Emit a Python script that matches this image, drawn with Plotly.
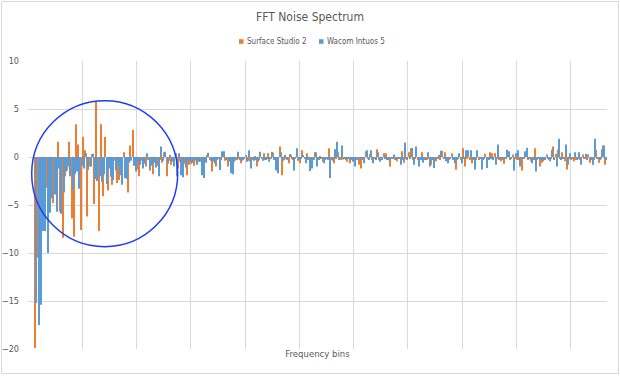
import plotly.graph_objects as go

# ---- data ----
bins = list(range(256))
surface_studio_2 = [
    0, 0, 0, -19.9, -10.5, -4.3, -5.0, -2.3, -3.2, -4.2,
    -2.6, -4.8, -3.0, 1.6, -5.7, -8.4, -2.0, -1.4, 1.6, -6.4,
    -8.3, 3.4, 1.3, -7.6, 2.1, 0.7, -6.2, -1.0, 0.3, -4.9,
    5.8, -7.7, 3.4, -4.1, 2.1, -3.5, -0.6, -2.9, -0.4, -2.7,
    -2.4, -0.5, 0.5, -0.8, -3.7, 1.2, 2.8, -0.3, -1.3, -2.0,
    -0.4, -0.6, -1.0, -0.3, -0.7, -1.8, -0.5, -0.9, -0.3, -0.6,
    0.5, -2.0, -0.4, -0.8, -0.3, 0.4, -1.2, -0.5, -0.3, -0.7,
    -1.9, -0.8, -0.7, -0.9, -0.4, -0.2, -0.5, -0.3, -0.4, 0.2,
    -0.3, -1.5, -0.4, -1.0, -0.2, -0.3, 0.1, -0.4, -1.0, -0.3,
    -0.2, -0.5, -0.3, -0.2, -0.65, -0.3, 0.2, -0.4, -0.5, -0.3,
    0.1, -1.0, -0.3, -0.2, 0.4, -0.3, 0.4, -0.2, 0.45, -0.3,
    -0.2, 1.1, -1.9, -0.3, -0.2, -0.65, 0.15, -0.3, -0.2, -0.4,
    -0.65, 0.7, -0.2, 0.4, -0.3, -0.2, -0.3, 0.5, -0.2, 0.1,
    -0.5, -0.3, -0.2, 0.9, -0.3, -0.65, -0.2, 0.5, -0.3, -0.25,
    -0.2, -0.5, -0.65, -0.3, -0.2, -0.3, -0.8, -1.2, -0.3, 0.6,
    -0.2, 0.3, -0.3, -0.2, 0.8, -0.3, -0.2, 0.4, 0.4, -0.3,
    -1.0, -0.2, -0.3, -0.45, -0.2, 0.6, -0.6, -0.2, 0.5, 0.95,
    -0.3, -0.2, -0.3, -0.2, 0.5, -0.2, -0.3, -0.2, -0.8, -0.2,
    -0.45, -0.2, -0.3, 0.65, 0.5, -0.2, -0.3, 0.4, -0.2, -1.3,
    -0.2, -0.3, 0.9, -1.0, -0.2, -0.3, -0.65, -0.2, -0.3, -0.3,
    -0.2, -0.3, 0.35, -0.2, 0.5, 0.4, 0.4, -0.2, -0.3, -0.45,
    -0.7, -0.2, 0.4, -0.3, 0.25, -0.2, -0.3, -0.3, -1.4, -0.2,
    0.4, -0.3, -0.45, -0.2, 0.9, -0.3, -1.0, -0.6, -0.2, 0.25,
    -0.3, -0.2, 1.1, 0.3, 0.75, -0.2, 0.5, -0.45, -1.3, -0.2,
    -0.3, -0.45, -0.3, -0.2, -0.3, 0.25, -0.2, -0.3, -0.6, -0.2,
    -0.3, 0.75, -0.6, -0.2, 1.2, -0.8,
]
wacom_intuos_5 = [
    0, 0, 0, -15.2, -17.5, -15.4, -7.7, -7.7, -10.0, -5.8,
    -4.3, -3.9, -5.7, -1.2, -5.9, -3.7, -1.5, -1.0, -2.0, -3.3,
    -1.8, -1.5, -3.3, -0.9, -1.2, 0.4, -1.35, -1.0, 0.35, -2.3,
    -2.5, -2.0, -2.6, -1.8, -2.8, -1.2, -2.05, -2.4, -1.4, -0.9,
    -1.9, -2.9, -2.2, -2.3, -0.6, -0.4, -0.9, -1.5, -0.5, -0.8,
    -1.2, -0.7, 0.4, -1.4, -0.9, -0.6, -1.1, -2.0, 1.1, -0.4,
    0.55, -0.7, 0.2, -0.5, -1.0, -2.0, 0.4, -1.9, -2.1, -1.1,
    -0.5, -0.4, -0.6, -0.3, -0.8, -0.5, -1.9, -2.2, -0.6, 0.45,
    -0.4, -0.5, -0.7, -0.3, -1.35, 0.6, 0.6, -0.3, -0.5, -1.7,
    -1.8, -0.4, 0.55, -0.3, -0.4, -0.2, -0.5, 0.7, -1.2, -0.4,
    -0.3, -0.5, 0.55, -0.4, -0.3, -0.2, -0.5, 0.55, -0.3, -1.4,
    -1.7, 0.5, -0.4, 0.2, -0.3, 0.3, -0.2, -1.4, 0.9, -0.3,
    -0.2, 0.2, -0.65, -0.3, -1.45, -1.2, 0.5, -1.0, -0.3, -0.2,
    -0.65, -0.2, -0.3, -2.2, -0.4, 0.8, 1.6, -0.3, 1.2, -0.2,
    -0.3, -0.2, -0.3, -0.5, -1.0, -0.2, -0.3, -0.2, -0.65, 0.7,
    -0.3, 0.7, -0.65, -0.3, 0.5, -0.5, -0.3, -0.2, -0.3, -0.35,
    -0.2, 0.25, -0.3, -0.2, -0.8, -0.3, 1.5, -0.3, -0.2, 0.95,
    -0.8, 1.1, -1.0, -0.3, -0.6, -0.3, 0.5, -1.0, -0.3, -1.15,
    -0.2, 0.15, 0.65, -0.2, -0.45, -0.65, -0.2, -0.3, -0.65, -0.3,
    0.4, -0.65, -0.2, 0.7, 0.7, 0.7, -0.3, -1.3, 0.7, -0.2,
    -1.3, -0.2, -1.15, -0.3, -0.2, -0.3, -0.8, 1.3, -0.2, -0.3,
    -0.2, 0.75, 0.6, -0.2, -1.4, 0.4, 0.7, -1.0, -0.2, 0.6,
    0.95, -0.2, -0.65, -0.3, -1.5, -0.2, -0.3, -0.45, -0.3, -0.2,
    -0.45, 0.75, -0.3, -1.0, 1.9, -0.3, -0.2, 1.3, -0.8, 0.4,
    -0.2, 0.5, -0.3, 0.5, -0.8, -0.2, 0.35, 0.25, -0.3, -0.8,
    1.9, -0.2, -0.3, 0.8, 1.2, -0.3,
]
series_names = ["Surface Studio 2", "Wacom Intuos 5"]
y_ticks = [-20, -15, -10, -5, 0, 5, 10]
grid_every = 24

ORANGE = "#ED7D31"
BLUE = "#5B9BD5"
GRID = "#D9D9D9"
TXT = "#595959"
FONT = "DejaVu Sans Condensed, Liberation Sans, Arial, sans-serif"

fig = go.Figure()
fig.add_trace(go.Bar(x=bins, y=surface_studio_2, name=series_names[0],
                     marker=dict(color=ORANGE, line=dict(width=0))))
fig.add_trace(go.Bar(x=bins, y=wacom_intuos_5, name=series_names[1],
                     marker=dict(color=BLUE, line=dict(width=0))))

W, H = 620, 376
L, R, T, B = 28, 13, 61, 27
pw, ph = W - L - R, H - T - B


def px(X):
    return (X - L) / pw


def py(Y):
    return (H - B - Y) / ph


n = len(bins)
grid_vals = [b - 0.5 for b in bins[::grid_every]]

# legend drawn as small squares + text (Excel style)
legend_items = [(series_names[0], ORANGE, 239.0), (series_names[1], BLUE, 319.0)]
legend_y = 41.5
shapes = [
    dict(type="rect", xref="paper", yref="paper", x0=px(1.5), x1=px(618.5),
         y0=py(373.5), y1=py(1.5), line=dict(color=GRID, width=1), layer="below"),
    dict(type="circle", xref="paper", yref="paper", x0=px(31.7), x1=px(177.7),
         y0=py(246.7), y1=py(100.7), line=dict(color="#1F3CF5", width=1.5)),
]
annotations = []
for name, col, x0 in legend_items:
    shapes.append(dict(type="rect", xref="paper", yref="paper",
                       x0=px(x0), x1=px(x0 + 4.5), y0=py(legend_y + 2.3), y1=py(legend_y - 2.3),
                       fillcolor=col, line=dict(width=0)))
    annotations.append(dict(text=name, xref="paper", yref="paper", x=px(x0 + 6), y=py(legend_y),
                            xanchor="left", yanchor="middle", showarrow=False,
                            font=dict(size=8, color=TXT, family=FONT)))

fig.update_layout(
    width=W, height=H,
    margin=dict(l=L, r=R, t=T, b=B, pad=0, autoexpand=False),
    paper_bgcolor="white", plot_bgcolor="white",
    barmode="group", bargap=0.08, bargroupgap=0,
    font=dict(family=FONT, color=TXT, size=10),
    title=dict(text="FFT Noise Spectrum", x=px(310), xref="paper", xanchor="center",
               y=1 - 17 / H, yanchor="middle", font=dict(size=12, color=TXT, family=FONT)),
    showlegend=False,
    xaxis=dict(range=[-0.5, n - 0.5], tickvals=grid_vals, showticklabels=False,
               showgrid=True, gridcolor=GRID, gridwidth=1, zeroline=False,
               showline=False, ticks="", automargin=False,
               title=dict(text="Frequency bins", standoff=1,
                          font=dict(size=9.5, color=TXT, family=FONT))),
    yaxis=dict(range=[-20, 10], tickvals=y_ticks, showgrid=True, gridcolor=GRID,
               gridwidth=1, zeroline=True, zerolinecolor=GRID, zerolinewidth=1,
               showline=False, ticks="", ticklabelstandoff=8, automargin=False,
               tickfont=dict(size=9, color=TXT, family=FONT)),
    annotations=annotations,
    shapes=shapes,
)

fig.write_html(
    "out.html",
    config={"displayModeBar": False},
    post_script="document.body.style.margin='0';document.body.style.overflow='hidden';",
)
